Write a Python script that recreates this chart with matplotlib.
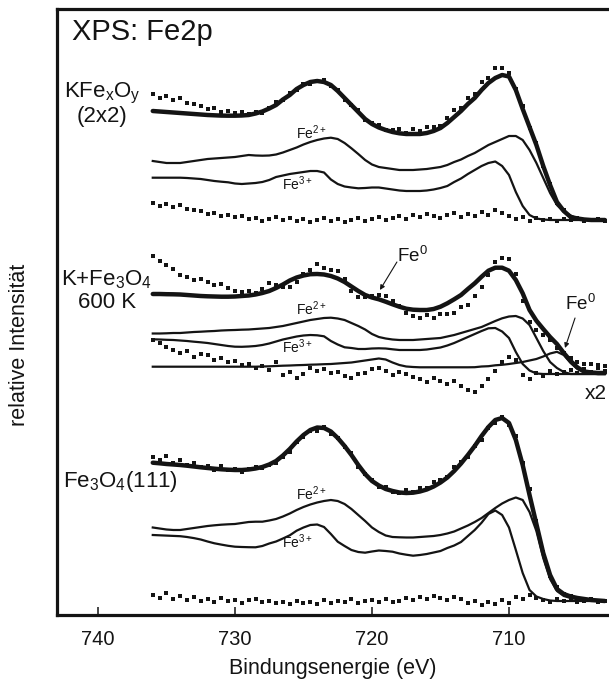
import numpy as np
import matplotlib
matplotlib.use("Agg")
import matplotlib.pyplot as plt

plt.rcParams['font.family'] = ['Liberation Sans', 'DejaVu Sans']
plt.rcParams['mathtext.fontset'] = 'custom'
plt.rcParams['mathtext.rm'] = 'Liberation Sans'
plt.rcParams['mathtext.it'] = 'Liberation Sans:italic'
plt.rcParams['mathtext.bf'] = 'Liberation Sans:bold'

# Binding energy grid (eV), 736 -> 703 in 0.5 eV steps
energy = np.linspace(736.0, 703.0, 67)

# ---- KFexOy (2x2) ----
fit_kfe = [109, 108.5, 108, 107.5, 107, 106.5, 106, 105.5, 105, 104.7,
           104.4, 104.3, 104.3, 104.5, 105, 106.5, 108.5, 111.5, 115, 120.5,
           125, 131, 135, 138, 139, 138, 135, 129, 122, 115,
           108, 101, 96, 92.5, 90, 88, 86.7, 86, 86, 86,
           87, 89, 92, 97, 103, 109, 116, 122, 130, 137,
           142, 145, 143.5, 130, 111, 93, 75, 54, 35, 18,
           9, 3, 1.5, 0.5, 0, 0, 0]
fe2_kfe = [59, 58, 57, 57, 57, 58, 59, 60, 61, 61.5,
           62, 62.5, 63, 64, 65, 64.5, 64.3, 64.5, 65.5, 67.5,
           70, 72.5, 75.5, 78, 80, 81.5, 82.3, 81, 77, 71.7,
           66, 60, 55.5, 53, 52, 51, 50, 50, 50, 50.5,
           51, 52, 53, 55, 58, 60.5, 64, 67, 71, 75,
           78, 81, 84, 84, 80, 70, 57, 42, 27, 15,
           8, 4.5, 1.5, 0.5, 0, 0, 0]
fe3_kfe = [42.3, 42.3, 42.3, 42.3, 42.3, 42, 41.5, 41, 40, 39,
           38.3, 37.7, 36.5, 36, 36.5, 37, 38, 40, 43, 44.5,
           46, 47, 48, 49, 49, 47.5, 40.5, 36, 33.5, 32.5,
           31.7, 32, 32.5, 32.5, 31.5, 30.5, 29.5, 29, 29, 29,
           29.5, 30.5, 32, 34, 38, 41.5, 46, 50, 54, 57,
           58.5, 54, 45, 28, 14, 5, 1.5, 0.5, 0, 0,
           0, 0, 0, 0, 0, 0, 0]
dev_kfe = [17, 14, 16, 13, 15, 11, 10, 9, 6, 7,
           4, 5, 3, 4, 1, 2, -1, 1, 3, 0,
           2, -1, 1, -2, 0, 2, -1, 1, -2, 0,
           2, -1, 1, 3, 0, 2, 4, 1, 5, 3,
           6, 4, 2, 5, 7, 3, 6, 4, 8, 5,
           10, 7, 4, 1, 3, -1, 2, 0, 1, -1,
           1, 0, 1, -1, 0, 1, -1]

# ---- K + Fe3O4, 600 K ----
fit_k600 = [80, 80, 79.8, 79.7, 79.5, 79, 78.5, 78, 77.7, 77.5,
            77.3, 77.3, 77.5, 78, 78.5, 79.5, 81, 83, 86, 89.5,
            93.5, 96.5, 98.5, 99.8, 100, 99.5, 98, 95.5, 92, 87.5,
            83, 79, 76.5, 74.7, 72.3, 69.7, 67.3, 65.3, 64.3, 64,
            64, 65, 67.3, 70.7, 74.7, 79, 85, 90.7, 97.3, 103.3,
            106.3, 106.3, 103.3, 94, 80.7, 64, 53.3, 45, 37, 30,
            21, 13, 6.5, 2.5, 1.5, 1, 1]
fe2_k600 = [40.5, 40.5, 40.7, 41, 41, 41.5, 42, 42.3, 42.7, 43,
            43.5, 43.8, 44, 44.3, 44.5, 45, 45.5, 46, 47, 48,
            49.5, 51, 52.5, 54, 55, 56, 56.3, 55.5, 54, 51,
            48, 44.5, 40, 37, 35.5, 34.5, 34, 34, 34, 34.5,
            35, 35.5, 36, 37.5, 39, 41, 43, 45, 47, 50,
            53, 55.7, 57.5, 58, 55.5, 49, 36, 23, 12, 6,
            2, 0, 0, 0, 0, 0, 0]
fe3_k600 = [34.7, 34.5, 34.2, 34, 33.5, 33, 32.3, 31.7, 31, 30,
            29, 28, 27.3, 27.2, 27.5, 28, 29, 30.5, 32.5, 34.5,
            36, 37.5, 38.5, 39, 38.7, 37.7, 33, 29.5, 26.7, 26,
            25, 25, 25.5, 25.7, 25.5, 24.7, 24, 24, 24, 24,
            24.5, 25.5, 26.5, 28.5, 31, 34, 37, 40, 43, 45.7,
            46, 42.5, 36, 22, 10, 3.5, 0.5, 0, 0, 0,
            0, 0, 0, 0, 0, 0, 0]
fe0_k600 = [7.3, 7.3, 7.3, 7.3, 7.3, 7.3, 7.3, 7.3, 7.3, 7.3,
            7.3, 7.3, 7.3, 7.3, 7.3, 7.3, 7.5, 7.7, 8, 8.3,
            8.5, 8.8, 9, 9.3, 9.5, 9.8, 10, 10.5, 11, 11.5,
            12.5, 13.5, 14.5, 15.5, 14.5, 11.5, 9, 7.5, 7, 6.7,
            6.7, 6.7, 6.7, 6.7, 6.7, 6.7, 6.7, 6.8, 7.5, 7.8,
            8.7, 9.2, 10, 11, 12, 13.5, 15, 17.5, 20.5, 22.2,
            19, 11, 5, 1.5, 0.5, 0, 0]
dev_k600 = [38, 33, 29, 25, 20, 18, 16, 17, 14, 12,
            13, 9, 6, 4, 5, 2, 4, 8, 3, -2,
            -6, -4, 2, 4, 10, 7, 6, 8, 3, -4,
            -6, -2, 2, 4, 6, 3, 1, -4, -6, -8,
            -5, -9, -7, -11, -14, -12, -16, -13, -10, -4,
            6, 10, 12, 6, -8, -12, -9, -6, -3, -4,
            0, 3, 6, 8, 9, 8, 7]
res_k600 = [34, 31, 27, 24, 21, 23, 17, 20, 19, 14,
            16, 12, 13, 9, 10, 6, 8, 4, 12, -1,
            2, -4, 0, 6, 3, 5, 1, 2, -2, -4,
            0, 1, 5, 6, 3, -1, 2, 0, -3, -5,
            -8, -4, -7, -10, -7, -12, -16, -18, -12, -5,
            3, 12, 17, 14, -1, -5, 1, -2, 3, 0,
            2, 4, 1, 5, 2, 6, 3]

# ---- Fe3O4(111) ----
fit_fe3o4 = [138.3, 137.7, 137, 136.5, 136, 135.3, 134.5, 133.7, 133, 132.3,
             131.7, 131.3, 131, 131, 131.5, 132.5, 134, 136.5, 140, 145.5,
             152, 159.5, 166, 171, 173.5, 173, 169.5, 163, 155, 146,
             136, 127, 120, 115.5, 112, 110, 108.5, 108, 108.3, 109.5,
             111.5, 114.5, 118.5, 123.5, 130, 137.5, 146, 155, 165, 174,
             181, 183, 178, 161, 136, 106, 77, 48, 26, 12,
             7, 4.5, 3, 2, 1, 0.5, 0]
fe2_fe3o4 = [73.5, 72.5, 71.5, 71, 71, 72, 73, 74, 75, 75.7,
             76.3, 76.7, 77, 78, 79, 79.3, 79.3, 80.5, 82, 84.5,
             87.5, 91, 94, 96.5, 98.5, 100, 101, 100, 97, 92,
             86, 80, 73.5, 69, 65.5, 64, 63.7, 63.5, 63.5, 64,
             64.5, 65, 66, 67.5, 69.5, 72.5, 75.5, 79, 83, 88,
             93, 97.5, 101, 103.5, 101, 89, 70, 43, 22, 10,
             5, 3, 2, 1.5, 1, 0.5, 0]
fe3_fe3o4 = [66, 65.7, 65.4, 65.1, 64.8, 64, 62.9, 61.5, 59.5, 57.7,
             56.4, 55.2, 54.3, 54, 53.8, 53.7, 55, 57.5, 59.5, 62.5,
             65.7, 70.3, 73.5, 76, 76.5, 74, 67, 59.3, 55, 51,
             49, 48.3, 49.5, 50.5, 50, 49.3, 47.5, 46.3, 45.3, 46,
             47, 48.5, 50, 53, 55.5, 59, 65, 71, 78.3, 87,
             90.5, 86, 73.5, 51, 28, 11, 4.5, 2, 0.5, 0,
             0, 0, 0, 0, 0, 0, 0]
dev_fe3o4 = [6, 3, 8, 2, 5, 1, 4, 0, 2, -1,
             3, 0, 1, -2, 1, 2, -1, 0, -2, -1,
             -3, 0, -2, -1, -3, 1, -2, 0, -1, 2,
             -2, 0, 1, -1, 2, -1, 0, 3, 1, 4,
             2, 5, 3, 1, 4, 2, -2, 0, -4, -1,
             -3, 1, -2, 4, 2, 6, 3, 1, -1, 2,
             0, 1, -1, 0, 1, -1, 0]

xticks = [740, 730, 720, 710]

INK = '#141414'
W, H = 609, 679


def fx(x):
    return x / W


def fy(y):
    return 1 - y / H


fig = plt.figure(figsize=(W / 100, H / 100), dpi=100)
ax = fig.add_axes([57 / W, 64 / H, (W - 57) / W, 606 / H])
ax.set_xlim(742.99, 702.7)
ax.set_ylim(0, 606)

spectra = [
    (395, fit_kfe, fe2_kfe, fe3_kfe, dev_kfe, dev_kfe),
    (241, fit_k600, fe2_k600, fe3_k600, dev_k600, res_k600),
    (14, fit_fe3o4, fe2_fe3o4, fe3_fe3o4, dev_fe3o4, dev_fe3o4),
]
for off, fit, fe2, fe3, dev, res in spectra:
    fit = np.asarray(fit, float)
    ax.plot(energy, off + np.asarray(fe2), color=INK, lw=1.6, zorder=2)
    ax.plot(energy, off + np.asarray(fe3), color=INK, lw=1.6, zorder=2)
    ax.plot(energy, off + fit, color=INK, lw=3.2, zorder=3,
            solid_joinstyle='round', solid_capstyle='round')
    ax.plot(energy, off + fit + np.asarray(dev), 's', ms=2.2, mew=0,
            color=INK, zorder=4)
    ax.plot(energy, off + np.asarray(res), 's', ms=2.2, mew=0,
            color=INK, zorder=4)

ax.plot(energy, 241 + np.asarray(fe0_k600), color=INK, lw=1.6, zorder=2)

# spines / ticks
for s in ['left', 'top', 'bottom']:
    ax.spines[s].set_linewidth(2.3)
    ax.spines[s].set_color(INK)
ax.spines['right'].set_visible(False)
ax.set_yticks([])
ax.set_xticks(xticks)
ax.set_xticklabels([str(t) for t in xticks])
ax.tick_params(axis='x', direction='in', length=6, width=1.1, pad=10.5,
               labelsize=14.5, colors=INK)
ax.set_xlabel('Bindungsenergie (eV)', fontsize=15.5, labelpad=7, color=INK)

fig.text(fx(20), fy(345), 'relative Intensität', rotation=90,
         ha='center', va='center', fontsize=15.5, color=INK)

# labels
fig.text(fx(72), fy(40), 'XPS: Fe2p', fontsize=21, ha='left', va='baseline', color=INK)
fig.text(fx(102.5), fy(97), r'KFe$_\mathregular{x}$O$_\mathregular{y}$', fontsize=16,
         ha='center', va='baseline', color=INK)
fig.text(fx(102.5), fy(122), '(2x2)', fontsize=16, ha='center', va='baseline', color=INK)
fig.text(fx(106.5), fy(285), r'K+Fe$_3$O$_4$', fontsize=16, ha='center', va='baseline', color=INK)
fig.text(fx(107), fy(308), '600 K', fontsize=16, ha='center', va='baseline', color=INK)
fig.text(fx(63), fy(487), r'Fe$_3$O$_4$(111)', fontsize=16, ha='left', va='baseline', color=INK)

small = [(296, 139, r'Fe$^{2+}$'), (282, 190, r'Fe$^{3+}$'),
         (296, 315, r'Fe$^{2+}$'), (282, 353, r'Fe$^{3+}$'),
         (296, 500, r'Fe$^{2+}$'), (282, 548, r'Fe$^{3+}$')]
for x, y, t in small:
    fig.text(fx(x), fy(y), t, fontsize=10, ha='left', va='baseline', color=INK)

fig.text(fx(397), fy(262), r'Fe$^0$', fontsize=13.5, ha='left', va='baseline', color=INK)
fig.text(fx(565), fy(310), r'Fe$^0$', fontsize=13.5, ha='left', va='baseline', color=INK)
arrow = dict(arrowstyle='-|>', lw=0.8, color=INK, mutation_scale=7,
             shrinkA=0, shrinkB=0)
ax.annotate('', xy=(719.42, 325), xytext=(718.18, 353), arrowprops=arrow)
ax.annotate('', xy=(705.91, 267), xytext=(705.18, 297), arrowprops=arrow)

fig.text(fx(607), fy(399), 'x2', fontsize=15, ha='right', va='baseline', color=INK)

fig.savefig('out.png', dpi=100)
